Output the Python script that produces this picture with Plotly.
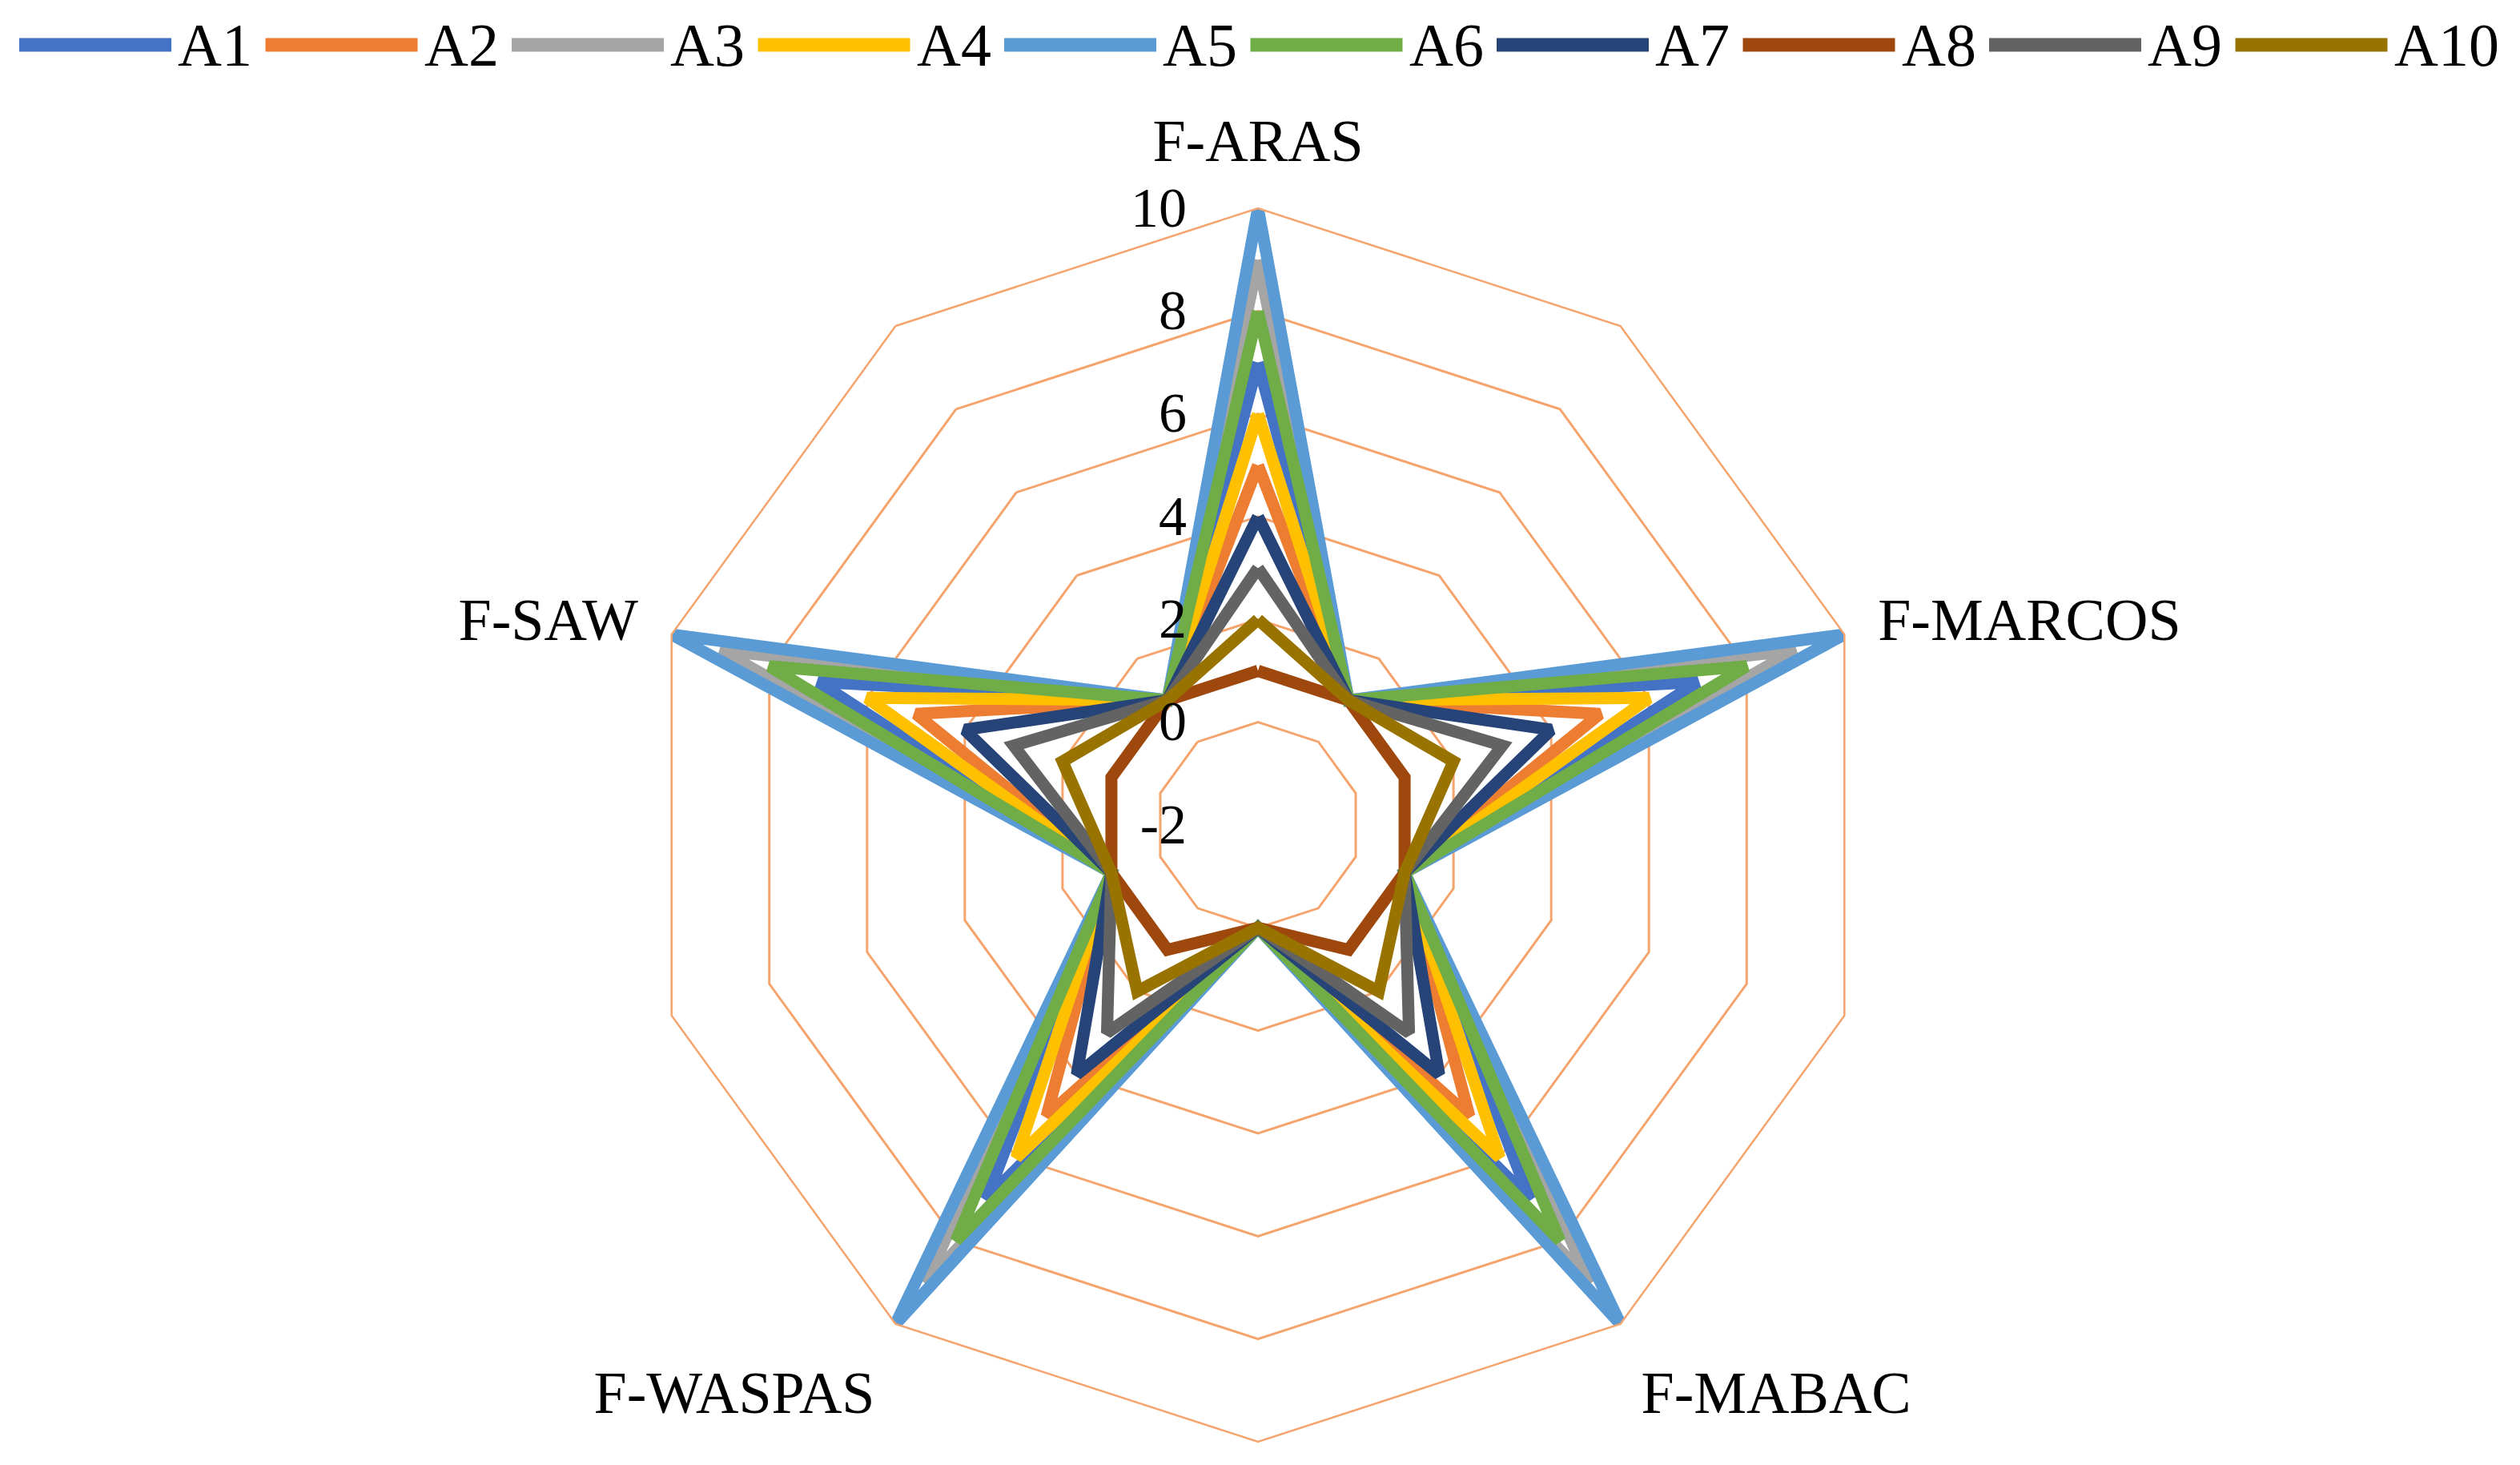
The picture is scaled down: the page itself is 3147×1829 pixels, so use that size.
import plotly.graph_objects as go

# alternatives and the five fuzzy ranking methods
alternatives = ["A1", "A2", "A3", "A4", "A5", "A6", "A7", "A8", "A9", "A10"]
methods = ["F-ARAS", "F-MARCOS", "F-MABAC", "F-WASPAS", "F-SAW"]
f_aras = [7, 5, 9, 6, 10, 8, 4, 1, 3, 2]
f_marcos = [7, 5, 9, 6, 10, 8, 4, 1, 3, 2]
f_mabac = [7, 5, 9, 6, 10, 8, 4, 1, 3, 2]
f_waspas = [7, 5, 9, 6, 10, 8, 4, 1, 3, 2]
f_saw = [7, 5, 9, 6, 10, 8, 4, 1, 3, 2]

# unnamed categories between the methods (blank labels in the original)
gap_labels = [" ", "  ", "   ", "    ", "     "]
gap_values = [1, 1, 0, 1, 1]

radial_ticks = [-2, 0, 2, 4, 6, 8, 10]
radial_text = ["-2", "0", "2", "4", "6", "8", "10"]

colors = ["#4472C4", "#ED7D31", "#A5A5A5", "#FFC000", "#5B9BD5",
          "#70AD47", "#264478", "#9E480E", "#636363", "#997300"]

FONT = "Liberation Serif, Times New Roman, serif"
GRID = "#F4A46C"

by_method = [f_aras, f_marcos, f_mabac, f_waspas, f_saw]
theta = []
for m, g in zip(methods, gap_labels):
    theta += [m, g]

fig = go.Figure()
for i, name in enumerate(alternatives):
    r = []
    for vals, gv in zip(by_method, gap_values):
        r += [vals[i], gv]
    fig.add_trace(go.Scatterpolar(
        r=r + [r[0]], theta=theta + [theta[0]], mode="lines", name=name,
        line=dict(color=colors[i], width=15), showlegend=False,
    ))

# legend drawn by hand so the line samples are long like the original
W, H = 3147, 1829
step = 307.5
ly = 1 - 48 / H
for i, name in enumerate(alternatives):
    x0 = 16 + i * step
    fig.add_shape(type="line", xref="paper", yref="paper",
                  x0=x0 / W, x1=(x0 + 190) / W, y0=ly, y1=ly,
                  line=dict(color=colors[i], width=17))
    fig.add_annotation(x=(x0 + 196) / W, y=ly, xref="paper", yref="paper",
                       text=name, showarrow=False, xanchor="left", yanchor="middle",
                       font=dict(family=FONT, size=76, color="black"))

cx, cy, rad = 1563, 1022, 770
fig.update_layout(
    width=W, height=H,
    margin=dict(l=0, r=0, t=0, b=0),
    paper_bgcolor="white",
    showlegend=False,
    polar=dict(
        domain=dict(x=[(cx - rad) / W, (cx + rad) / W],
                    y=[(H - cy - rad) / H, (H - cy + rad) / H]),
        bgcolor="white",
        gridshape="linear",
        angularaxis=dict(
            type="category", categoryarray=theta, rotation=90, direction="clockwise",
            showgrid=False, showline=True, linecolor=GRID, linewidth=2.5,
            ticks="outside", ticklen=28, tickcolor="rgba(0,0,0,0)",
            tickfont=dict(family=FONT, size=74, color="black"),
        ),
        radialaxis=dict(
            range=[-2, 10], tickmode="array", tickvals=radial_ticks, ticktext=radial_text,
            angle=90, side="counterclockwise",
            showline=False, ticks="outside", ticklen=64, tickcolor="rgba(0,0,0,0)",
            gridcolor=GRID, gridwidth=2.5,
            tickangle=90, tickfont=dict(family=FONT, size=70, color="black"),
        ),
    ),
)

fig.write_html("out.html")
